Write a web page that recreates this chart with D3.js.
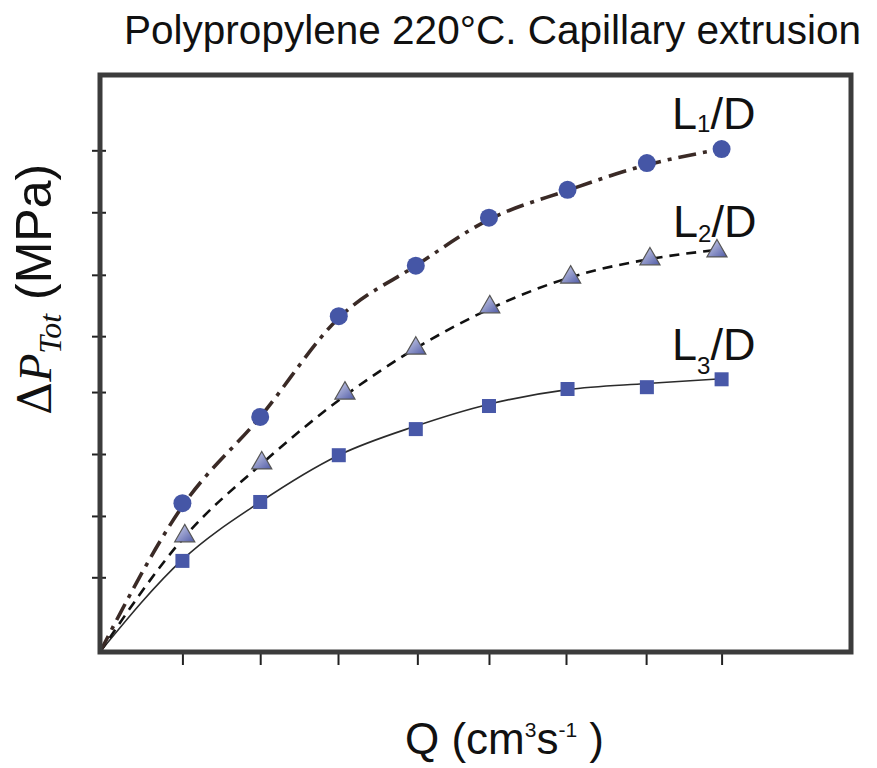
<!DOCTYPE html>
<html>
<head>
<meta charset="utf-8">
<script src="https://cdn.jsdelivr.net/npm/d3@7"></script>
<style>
  body { margin: 0; background: #fff; }
  svg text { font-family: "Liberation Sans", Arial, sans-serif; fill: #111; }
</style>
</head>
<body>
<svg id="chart"></svg>
<script>
const width = 877, height = 768;
const margin = { top: 75, right: 26, bottom: 116, left: 100 };

// flow rate positions of the measurements
const q = [1.07, 2.08, 3.1, 4.1, 5.05, 6.07, 7.1, 8.07];
const qTri = [1.1, 2.1, 3.18, 4.1, 5.06, 6.11, 7.14, 8.01];
const qTicks = [1.07, 2.08, 3.09, 4.12, 5.05, 6.05, 7.09, 8.07];
const pTicks = [1.23, 2.24, 3.26, 4.28, 5.2, 6.21, 7.24, 8.26];

// measured pressure drops
const l1 = [2.45, 3.87, 5.53, 6.36, 7.15, 7.61, 8.05, 8.28];
const l2 = [1.91, 3.11, 4.26, 5.0, 5.68, 6.17, 6.47, 6.6];
const l3 = [1.5, 2.47, 3.24, 3.67, 4.05, 4.33, 4.36, 4.49];

// fitted curves (start at origin)
const fitQ1 = [0, 1.07, 2.08, 3.1, 4.1, 5.05, 6.07, 7.1, 8.07];
const fitQ2 = [0, 1.1, 2.1, 3.18, 4.1, 5.06, 6.11, 7.14, 8.01];
const fit1 = [0, 2.4, 3.87, 5.5, 6.36, 7.12, 7.6, 8.02, 8.28];
const fit2 = [0, 1.9, 3.1, 4.22, 5.0, 5.65, 6.17, 6.47, 6.62];
const fit3 = [0, 1.52, 2.47, 3.24, 3.72, 4.08, 4.32, 4.42, 4.5];

const svg = d3.select("#chart")
    .attr("width", width)
    .attr("height", height);

const x = d3.scaleLinear().domain([0, 9.75]).range([margin.left, width - margin.right]);
const y = d3.scaleLinear().domain([0, 9.5]).range([height - margin.bottom, margin.top]);

const defs = svg.append("defs");
const grad = defs.append("linearGradient")
    .attr("id", "triGrad")
    .attr("x1", "0%").attr("y1", "0%")
    .attr("x2", "100%").attr("y2", "100%");
grad.append("stop").attr("offset", "0%").attr("stop-color", "#d4d7ee");
grad.append("stop").attr("offset", "100%").attr("stop-color", "#4f5aa6");

// axes ticks
const xAxis = svg.append("g")
    .attr("transform", `translate(0,${y(0)})`)
    .call(d3.axisBottom(x).tickValues(qTicks).tickSize(13).tickFormat(""));
const yAxis = svg.append("g")
    .attr("transform", `translate(${x(0)},0)`)
    .call(d3.axisLeft(y).tickValues(pTicks).tickSize(8).tickFormat(""));
yAxis.selectAll(".tick line").attr("x1", 6);
[xAxis, yAxis].forEach(g => {
    g.select(".domain").remove();
    g.selectAll(".tick line").attr("stroke", "#222").attr("stroke-width", 2);
});

// curves
const line = d3.line()
    .x(d => x(d[0]))
    .y(d => y(d[1]))
    .curve(d3.curveMonotoneX);

svg.append("path")
    .datum(d3.zip(fitQ1, fit3))
    .attr("d", line)
    .attr("fill", "none")
    .attr("stroke", "#2b2b2b")
    .attr("stroke-width", 1.6);

svg.append("path")
    .datum(d3.zip(fitQ2, fit2))
    .attr("d", line)
    .attr("fill", "none")
    .attr("stroke", "#111")
    .attr("stroke-width", 2.6)
    .attr("stroke-dasharray", "10 7");

svg.append("path")
    .datum(d3.zip(fitQ1, fit1))
    .attr("d", line)
    .attr("fill", "none")
    .attr("stroke", "#3a2a26")
    .attr("stroke-width", 3.6)
    .attr("stroke-dasharray", "18 7 4 7");

// frame
svg.append("rect")
    .attr("x", x(0))
    .attr("y", y(9.5))
    .attr("width", x(9.75) - x(0))
    .attr("height", y(0) - y(9.5))
    .attr("fill", "none")
    .attr("stroke", "#3c3c3c")
    .attr("stroke-width", 5);

// markers
svg.selectAll("circle.l1")
    .data(d3.zip(q, l1))
    .join("circle")
    .attr("class", "l1")
    .attr("cx", d => x(d[0]))
    .attr("cy", d => y(d[1]))
    .attr("r", 9)
    .attr("fill", "#4556a6");

const tri = d3.symbol().type(d3.symbolTriangle).size(175);
svg.selectAll("path.l2")
    .data(d3.zip(qTri, l2))
    .join("path")
    .attr("class", "l2")
    .attr("d", tri)
    .attr("transform", d => `translate(${x(d[0])},${y(d[1])})`)
    .attr("fill", "url(#triGrad)")
    .attr("stroke", "#555")
    .attr("stroke-width", 1.2);

svg.selectAll("rect.l3")
    .data(d3.zip(q, l3))
    .join("rect")
    .attr("class", "l3")
    .attr("x", d => x(d[0]) - 7)
    .attr("y", d => y(d[1]) - 7)
    .attr("width", 14)
    .attr("height", 14)
    .attr("fill", "#4858a8");

// title
svg.append("text")
    .attr("x", 124)
    .attr("y", 44)
    .attr("textLength", 737)
    .attr("lengthAdjust", "spacingAndGlyphs")
    .style("font-size", "41px")
    .text("Polypropylene 220°C. Capillary extrusion");

// curve labels
const labels = [
    { n: "1", x: 672, y: 129, dy: 3 },
    { n: "2", x: 673, y: 237, dy: 5 },
    { n: "3", x: 672, y: 360, dy: 14 }
];
labels.forEach(l => {
    const t = svg.append("text")
        .attr("x", l.x)
        .attr("y", l.y)
        .style("font-size", "45px");
    t.append("tspan").text("L");
    t.append("tspan").attr("dy", l.dy).style("font-size", "24px").text(l.n);
    t.append("tspan").attr("dy", -l.dy).text("/D");
});

// x label
const xl = svg.append("text")
    .attr("x", 405)
    .attr("y", 754)
    .style("font-size", "44px");
xl.append("tspan").text("Q (cm");
xl.append("tspan").attr("dy", -17).style("font-size", "21px").text("3");
xl.append("tspan").attr("dy", 17).text("s");
xl.append("tspan").attr("dy", -17).style("font-size", "21px").text("-1");
xl.append("tspan").attr("dy", 17).text("  )");

// y label
const yl = svg.append("text")
    .attr("transform", "translate(51,415) rotate(-90)")
    .style("font-size", "46px");
yl.append("tspan").style("font-family", "'DejaVu Serif', 'Liberation Serif', serif").text("Δ");
yl.append("tspan").style("font-family", "'Liberation Serif', serif").style("font-style", "italic").text("P");
yl.append("tspan").attr("dy", 10).style("font-family", "'Liberation Serif', serif")
    .style("font-style", "italic").style("font-size", "32px").text("Tot");
yl.append("tspan").attr("dy", -10).style("font-size", "50px").text(" (MPa)");
</script>
</body>
</html>
